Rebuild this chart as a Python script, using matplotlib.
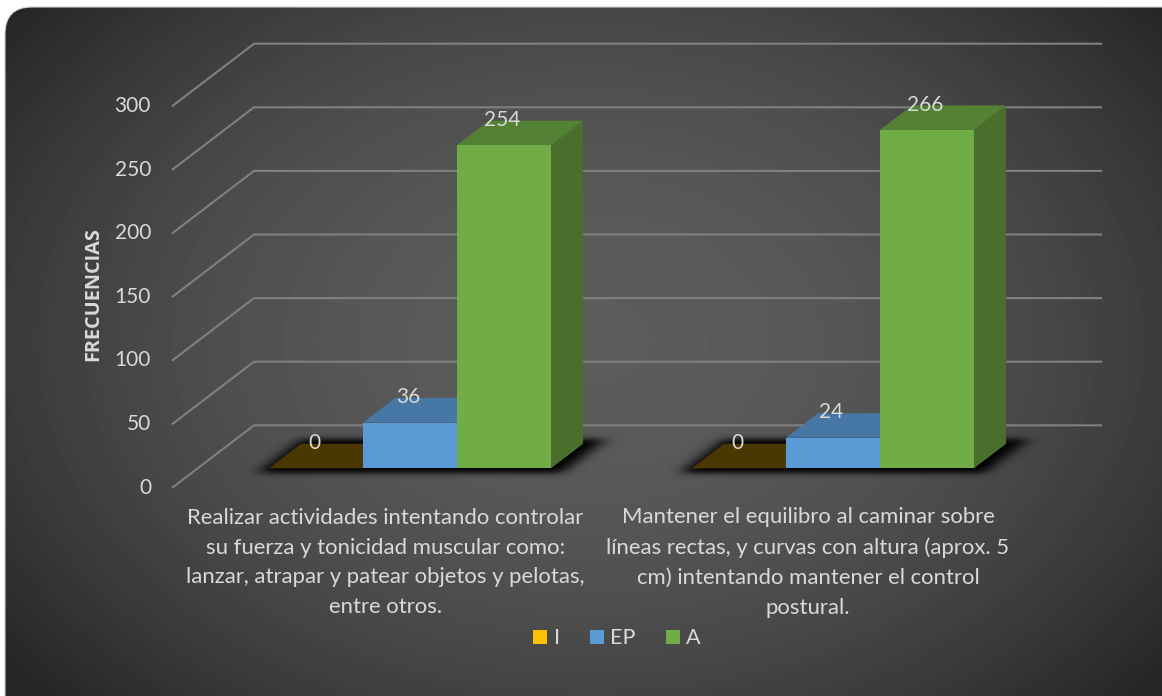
import numpy as np
import matplotlib
matplotlib.use("Agg")
import matplotlib.pyplot as plt
from matplotlib.patches import Polygon, FancyBboxPatch, Patch

plt.rcParams['font.family'] = ['Lato', 'DejaVu Sans']

# ---- data ----
categories = [
    "Realizar actividades intentando controlar\nsu fuerza y tonicidad muscular como:\nlanzar, atrapar y patear objetos y pelotas,\nentre otros.",
    "Mantener el equilibro al caminar sobre\nlíneas rectas, y curvas con altura (aprox. 5\ncm) intentando mantener el control\npostural.",
]
series_names = ["I", "EP", "A"]
values_I = [0, 0]
values_EP = [36, 24]
values_A = [254, 266]
y_ticks = [0, 50, 100, 150, 200, 250, 300]
y_title = "FRECUENCIAS"

# ---- styles ----
W, H = 1162, 696
front_cols = ["#ffc000", "#5b9bd5", "#70ad47"]
top_cols = ["#4a3800", "#4677a5", "#548235"]
side_cols = ["#3a2c00", "#3a6289", "#4a6e2b"]
txt = "#d9d9d9"
grid_c = "#808080"

X0, UX = 410.0, 423.0       # px of category 0, px per category
Y0, UY = 468.3, 1.272       # px of value 0 on bar plane, px per unit
BW = 94.0 / UX              # bar width in category units
SX = 1.31                   # oblique slope: dx per dy


def to_x(px):
    return (px - X0) / UX


def to_y(py):
    return (Y0 - py) / UY


def P(x, v, d=0.0):
    """Oblique projection: category x, value v, depth d in pixels."""
    return (x + SX * d / UX, v + d / UY)


fig = plt.figure(figsize=(W / 100, H / 100), dpi=100, facecolor="white")
ax = fig.add_axes([0, 0, 1, 1])
ax.axis("off")

# background panel with radial gradient
yy, xx = np.mgrid[0:H, 0:W]
r2 = ((xx - 590) / 590.0) ** 2 + ((yy - 340) / 420.0) ** 2
shade = np.clip(0x5c - 50 * np.clip(r2, 0, 1.6) / 1.45, 0x26, 0x5c) / 255.0
bg = ax.imshow(shade, cmap="gray", vmin=0, vmax=1, extent=(to_x(0), to_x(W), to_y(H), to_y(0)),
               aspect="auto", zorder=0, interpolation="bilinear")
panel = FancyBboxPatch((5, 7), W + 40, H + 40, boxstyle="round,pad=0,rounding_size=27",
                       transform=matplotlib.transforms.Affine2D().scale(1, -1).translate(0, H),
                       facecolor="none", edgecolor="#d0d0d0", lw=0.8, zorder=1)
ax.add_patch(panel)
bg.set_clip_path(panel)

# walls
D_FRONT, D_BACK = -19.0, 43.0
x_left = to_x(254 - SX * D_BACK)
x_right = to_x(1101 - SX * D_BACK)
for t in y_ticks:
    p0 = P(x_left, t, D_FRONT)
    p1 = P(x_left, t, D_BACK)
    p2 = P(x_right, t, D_BACK)
    ax.plot([p0[0], p1[0], p2[0]], [p0[1], p1[1], p2[1]], color=grid_c, lw=1.5, zorder=2,
            solid_joinstyle="miter")
    ax.text(to_x(151), t + to_y(485.5), str(t), ha="right", va="center_baseline", color=txt,
            fontsize=15, zorder=6)

# soft floor shadow
n_groups = len(categories)
mask = np.zeros((H, W))
for g in range(n_groups):
    lft = X0 + UX * (g - 1.5 * BW)
    rgt = X0 + UX * (g + 1.5 * BW)
    for row in range(439, 473):
        d = 470 - row
        mask[row, int(lft - 8 + SX * d):int(rgt + 14 + SX * d)] = 1.0
for _ in range(4):
    mask = np.apply_along_axis(lambda m: np.convolve(m, np.ones(13) / 13, mode="same"), 1, mask)
    mask = np.apply_along_axis(lambda m: np.convolve(m, np.ones(5) / 5, mode="same"), 0, mask)
rgba = np.zeros((H, W, 4))
rgba[..., 3] = np.clip(mask * 1.0, 0, 1)
ax.imshow(rgba, extent=(to_x(0), to_x(W), to_y(H), to_y(0)), aspect="auto", zorder=3)

# bars
DEPTH = 24.5
all_values = [values_I, values_EP, values_A]
for g in range(n_groups):
    for s, vals in enumerate(all_values):
        v = vals[g]
        xl = g + (s - 1.5) * BW
        xr = xl + BW
        z = 4 + s * 0.1
        ax.add_patch(Polygon([P(xr, 0), P(xr, 0, DEPTH), P(xr, v, DEPTH), P(xr, v)],
                             facecolor=side_cols[s], edgecolor="none", zorder=z))
        ax.add_patch(Polygon([P(xl, v), P(xr, v), P(xr, v, DEPTH), P(xl, v, DEPTH)],
                             facecolor=top_cols[s], edgecolor="none", zorder=z))
        if v > 0:
            ax.bar(xl, v, width=BW, align="edge", color=front_cols[s], edgecolor="none", zorder=z + 0.05)
        ax.text(xl + BW / 2 - 1.5 / UX, v + 21.5, str(v), ha="center", va="center_baseline",
                color=txt, fontsize=15, zorder=7)

# category labels
cat_px = [385.5, 808]
for cx, label in zip(cat_px, categories):
    ax.text(to_x(cx), to_y(562.5), label, ha="center", va="center", multialignment="center",
            color=txt, fontsize=15.9, linespacing=1.61, zorder=7)

# axis title
ax.text(to_x(93), to_y(294.5), y_title, rotation=90, ha="center", va="center", color=txt,
        fontsize=14.3, fontweight="bold", family=["Open Sans", "DejaVu Sans"], zorder=7)

# legend
handles = [Patch(facecolor=c, edgecolor="none", label=n) for c, n in zip(front_cols, series_names)]
ax.legend(handles=handles, ncols=3, loc="center", bbox_to_anchor=(617 / W, 1 - 638.5 / H),
          frameon=False, fontsize=15.5, labelcolor=txt, handlelength=0.65, handleheight=0.65,
          handletextpad=0.3, columnspacing=1.4, borderpad=0)

ax.set_xlim(to_x(0), to_x(W))
ax.set_ylim(to_y(H), to_y(0))
fig.savefig("out.png", dpi=100, facecolor="white")
